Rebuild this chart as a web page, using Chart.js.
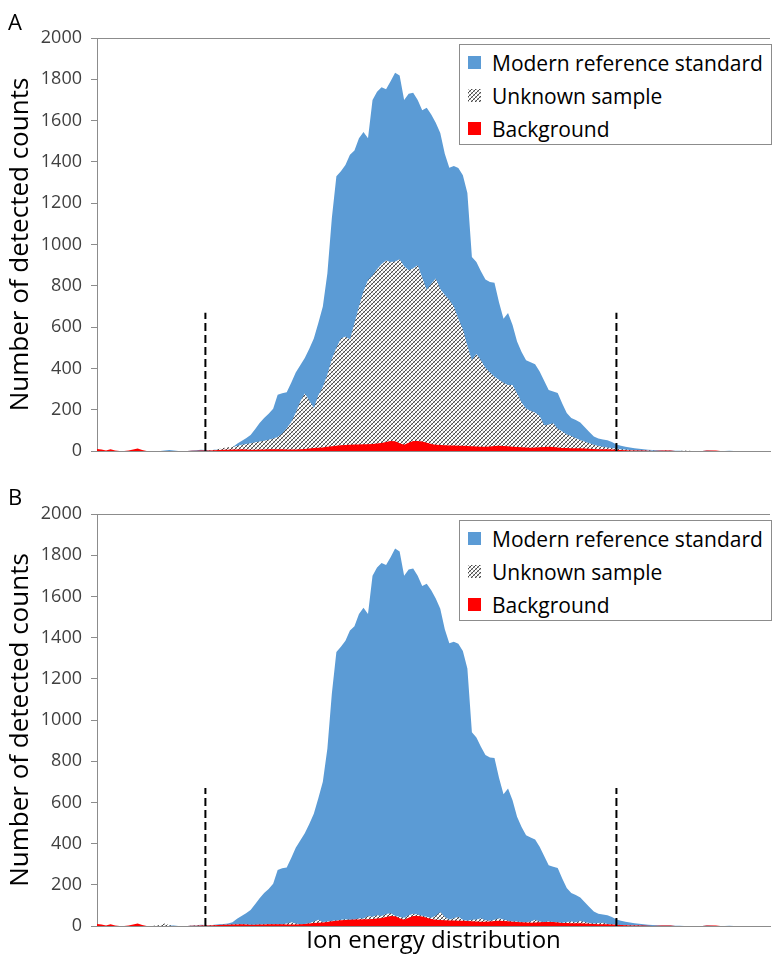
<!DOCTYPE html>
<html>
<head>
<meta charset="utf-8">
<script src="https://cdn.jsdelivr.net/npm/chart.js@4.4.1/dist/chart.umd.min.js"></script>
<style>
  body { margin: 0; background: #fff; font-family: "Open Sans", sans-serif; }
  #wrap { position: relative; width: 775px; height: 957px; overflow: hidden; }
  .panel { position: absolute; left: 0; width: 775px; }
  #panelA { top: 0; height: 478px; }
  #panelB { top: 476px; height: 481px; }
  .letter { position: absolute; left: 8px; font-size: 22px; line-height: 24px; color: #000; }
  .legend { position: absolute; left: 459px; width: 311px; height: 99px; border: 1px solid #8c8c8c; background: #fff; }
  .legend .row { position: absolute; left: 0; height: 24px; width: 100%; }
  .legend .swatch { position: absolute; left: 8px; top: 5px; width: 13px; height: 13px; }
  .legend .label { position: absolute; left: 32px; top: 0; font-size: 21px; line-height: 24px; color: #000; white-space: nowrap; }
</style>
</head>
<body>
<div id="wrap">
  <div class="panel" id="panelA"><canvas id="chartA"></canvas></div>
  <div class="panel" id="panelB"><canvas id="chartB"></canvas></div>
  <div class="letter" style="top:9px">A</div>
  <div class="letter" style="top:484px">B</div>
  <div class="legend" id="legendA" style="top:44px"></div>
  <div class="legend" id="legendB" style="top:520px"></div>
</div>
<script>
// counts per energy channel
const modernStandard = [
  0, 0, 0, 0, 0, 0, 0, 0, 0, 0, 0, 0, 0, 0, 0, 2, 5, 3, 0, 0,
  0, 2, 4, 6, 5, 4, 6, 8, 10, 12, 18, 35, 48, 62, 78, 105, 135, 160, 180, 205,
  272, 280, 284, 330, 380, 415, 450, 495, 545, 620, 700, 860, 1130, 1330, 1355, 1385, 1435, 1455, 1515, 1545,
  1515, 1700, 1740, 1762, 1752, 1790, 1832, 1818, 1700, 1730, 1735, 1700, 1650, 1662, 1630, 1590, 1540, 1440, 1372, 1380,
  1370, 1335, 1250, 940, 915, 870, 830, 818, 815, 720, 640, 668, 610, 530, 480, 440, 430, 420, 385, 340,
  295, 288, 281, 230, 184, 160, 150, 138, 115, 92, 70, 60, 56, 52, 44, 32, 26, 21, 17, 13,
  11, 8, 6, 5, 4, 3, 2, 2, 1, 1, 0, 0, 0, 0, 0, 2, 1, 0, 0, 0,
  1, 0, 0, 0, 0, 0, 0, 0, 0, 0
];
const unknownSampleA = [
  0, 0, 0, 0, 0, 0, 0, 0, 0, 0, 0, 0, 0, 0, 0, 0, 0, 0, 0, 0,
  0, 0, 0, 0, 0, 2, 5, 10, 15, 18, 20, 24, 30, 34, 38, 42, 46, 50, 55, 60,
  68, 85, 110, 140, 185, 240, 278, 245, 208, 270, 310, 370, 445, 500, 545, 555, 540, 620, 700, 775,
  828, 850, 880, 905, 922, 915, 918, 928, 895, 875, 885, 900, 840, 780, 810, 835, 785, 755, 731, 700,
  640, 590, 510, 440, 470, 440, 402, 380, 360, 345, 330, 320, 320, 280, 235, 205, 195, 186, 170, 125,
  128, 134, 108, 95, 80, 73, 62, 53, 45, 38, 30, 24, 20, 17, 15, 12, 9, 7, 5, 4,
  3, 2, 2, 1, 0, 0, 2, 0, 0, 0, 2, 1, 0, 0, 0, 0, 0, 0, 0, 0,
  0, 0, 0, 0, 0, 0, 0, 0, 0, 0
];
const unknownSampleB = [
  0, 0, 0, 0, 0, 0, 0, 0, 0, 0, 0, 0, 0, 2, 5, 12, 4, 0, 0, 0,
  0, 1, 2, 2, 3, 3, 4, 5, 6, 6, 7, 8, 9, 8, 6, 6, 7, 9, 10, 9,
  8, 9, 12, 18, 12, 9, 10, 13, 22, 30, 20, 22, 25, 27, 30, 33, 30, 32, 38, 36,
  48, 45, 52, 48, 58, 62, 50, 45, 40, 52, 60, 56, 50, 45, 40, 50, 68, 45, 32, 38,
  45, 30, 26, 30, 32, 38, 28, 26, 30, 38, 32, 25, 22, 22, 20, 18, 22, 30, 22, 20,
  22, 20, 18, 16, 20, 22, 18, 24, 20, 14, 12, 14, 16, 10, 8, 6, 5, 4, 3, 2,
  2, 0, 0, 0, 0, 0, 0, 0, 0, 0, 0, 0, 0, 0, 0, 0, 0, 0, 0, 0,
  0, 0, 0, 0, 0, 0, 0, 0, 0, 0
];
const background = [
  10, 7, 3, 8, 3, 0, 0, 2, 7, 12, 5, 0, 0, 0, 0, 0, 0, 0, 0, 0,
  0, 1, 1, 2, 2, 3, 4, 5, 6, 6, 7, 7, 8, 7, 6, 6, 7, 7, 8, 8,
  8, 8, 7, 7, 7, 8, 10, 12, 14, 16, 17, 20, 23, 26, 28, 29, 30, 31, 32, 33,
  33, 34, 36, 39, 44, 48, 47, 38, 30, 40, 49, 49, 46, 40, 34, 30, 29, 28, 27, 27,
  26, 25, 24, 23, 22, 21, 21, 22, 24, 25, 24, 23, 21, 19, 18, 17, 16, 17, 18, 19,
  20, 19, 17, 15, 14, 13, 13, 13, 12, 11, 10, 9, 9, 8, 7, 6, 5, 4, 3, 3,
  3, 2, 1, 0, 1, 2, 3, 2, 0, 0, 0, 0, 0, 0, 0, 2, 3, 2, 0, 0,
  0, 0, 0, 0, 0, 0, 0, 0, 0, 0
];
const channels = modernStandard.map((_, i) => i);
const seriesNames = ['Modern reference standard', 'Unknown sample', 'Background'];
const yTicks = [0, 200, 400, 600, 800, 1000, 1200, 1400, 1600, 1800, 2000];
const cutoffChannels = [24, 115];
const cutoffHeight = 670;

const BLUE = '#5b9bd5';
const RED = '#ff0000';

// hatch tile for the unknown sample (fine crosshatch)
function hatchTile() {
  const c = document.createElement('canvas');
  c.width = 4; c.height = 4;
  const g = c.getContext('2d');
  g.fillStyle = '#fff';
  g.fillRect(0, 0, 4, 4);
  g.fillStyle = '#b4b4b4';
  for (let i = 0; i < 4; i++) g.fillRect(i, i, 1, 1);
  g.fillStyle = '#4a4a4a';
  for (let i = 0; i < 4; i++) g.fillRect(3 - i, i, 1, 1);
  return c;
}
const tile = hatchTile();

function pts(arr) {
  return channels.map((c, i) => ({ x: c, y: arr[i] }));
}

function buildLegend(id) {
  const box = document.getElementById(id);
  const swatches = [BLUE, 'url(' + tile.toDataURL() + ')', RED];
  seriesNames.forEach((name, i) => {
    const row = document.createElement('div');
    row.className = 'row';
    row.style.top = (6 + i * 33) + 'px';
    const sw = document.createElement('div');
    sw.className = 'swatch';
    sw.style.background = swatches[i];
    const lb = document.createElement('div');
    lb.className = 'label';
    lb.textContent = name;
    row.appendChild(sw);
    row.appendChild(lb);
    box.appendChild(row);
  });
}

function makeChart(id, unknown, xTitle, xHeight) {
  const ctx = document.getElementById(id).getContext('2d');
  const hatch = ctx.createPattern(tile, 'repeat');
  const area = (label, data, color, order) => ({
    label: label,
    data: pts(data),
    backgroundColor: color,
    borderWidth: 0,
    pointRadius: 0,
    tension: 0,
    fill: 'origin',
    order: order
  });
  const cutoffs = cutoffChannels.map(c => ({
    data: [{ x: c, y: 0 }, { x: c, y: cutoffHeight }],
    borderColor: '#000',
    borderWidth: 2,
    borderDash: [8, 4],
    pointRadius: 0,
    fill: false,
    order: 0
  }));
  return new Chart(ctx, {
    type: 'line',
    data: {
      datasets: [
        area(seriesNames[2], background, RED, 1),
        area(seriesNames[1], unknown, hatch, 2),
        area(seriesNames[0], modernStandard, BLUE, 3),
        ...cutoffs
      ]
    },
    options: {
      responsive: true,
      maintainAspectRatio: false,
      animation: false,
      layout: { padding: { top: 38, right: 5, left: 0, bottom: 0 } },
      plugins: { legend: { display: false }, tooltip: { enabled: false } },
      scales: {
        x: {
          type: 'linear',
          min: 0,
          max: channels.length - 1,
          ticks: { display: false },
          grid: { display: false },
          border: { color: '#8c8c8c', width: 1 },
          title: {
            display: !!xTitle,
            text: xTitle,
            color: '#000',
            font: { family: 'Open Sans', size: 24 },
            padding: { top: 0, bottom: 1 }
          },
          afterFit: s => { s.height = xHeight; }
        },
        y: {
          min: 0,
          max: 2000,
          afterBuildTicks: s => { s.ticks = yTicks.map(v => ({ value: v })); },
          ticks: {
            color: '#404040',
            font: { family: 'Open Sans', size: 18 },
            padding: 9,
            callback: v => String(v)
          },
          grid: {
            drawOnChartArea: true,
            tickLength: 6,
            color: c => (c.tick && c.tick.value === 2000 ? '#8c8c8c' : 'rgba(0,0,0,0)'),
            tickColor: '#8c8c8c'
          },
          border: { color: '#8c8c8c', width: 1 },
          title: {
            display: true,
            text: 'Number of detected counts',
            color: '#000',
            font: { family: 'Open Sans', size: 26 },
            padding: { top: 5, bottom: 0 }
          },
          afterFit: s => { s.width = 97; }
        }
      }
    }
  });
}

buildLegend('legendA');
buildLegend('legendB');
makeChart('chartA', unknownSampleA, '', 27);
makeChart('chartB', unknownSampleB, 'Ion energy distribution', 31);
</script>
</body>
</html>
